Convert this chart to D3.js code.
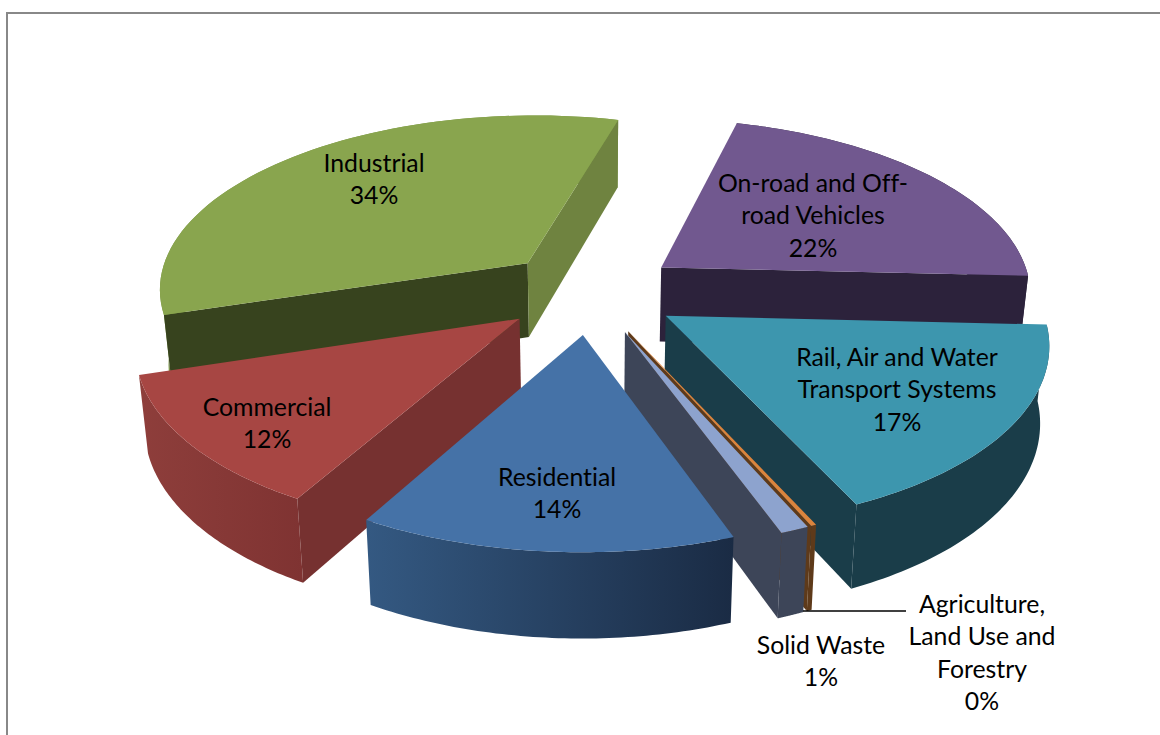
<!DOCTYPE html>
<html>
<head>
<meta charset="utf-8">
<script src="https://cdn.jsdelivr.net/npm/d3@7"></script>
<style>
  body { margin: 0; background: #fff; }
  text { font-family: Lato, "Open Sans", sans-serif; font-size: 24.8px; fill: #000; text-anchor: middle; font-variant-ligatures: none; }
</style>
</head>
<body>
<svg></svg>
<script>
let svgWidth = 1160
let svgHeight = 735

// DATA (clockwise, starting from the top of the pie)
let categories = ['On-road and Off-road Vehicles', 'Rail, Air and Water Transport Systems',
  'Agriculture, Land Use and Forestry', 'Solid Waste', 'Residential', 'Commercial', 'Industrial']
let shares = [21.6, 17.4, 0.2, 1.05, 13.8, 12.0, 33.95]

// STYLES
let topColors = ['#71588F', '#3D96AE', '#DB843D', '#8DA3CE', '#4572A7', '#A74643', '#89A54E']
let startWallColors = ['#2C223B', '#1A3D49', '#5E3A1A', '#3D4558', '#1F3553', '#763130', '#37431E']
let endWallColors = ['#2C223B', '#1A3D49', '#5E3A1A', '#3D4558', '#1F3553', '#763130', '#6F8340']
let outerLeftColors = ['#2C223B', '#1A3D49', '#5E3A1A', '#3D4558', '#345982', '#8E3E3B', '#7B9646']
let outerRightColors = ['#2C223B', '#1A3D49', '#5E3A1A', '#3D4558', '#1A2B44', '#7F3332', '#7B9646']

// back slices first, so the front ones cover them
let paintOrder = [6, 0, 1, 2, 3, 5, 4]

let labelLines = [
  ['On-road and Off-', 'road Vehicles'],
  ['Rail, Air and Water', 'Transport Systems'],
  ['Agriculture,', 'Land Use and', 'Forestry'],
  ['Solid Waste'],
  ['Residential'],
  ['Commercial'],
  ['Industrial']
]
let labelAnchors = [[813, 192], [897, 366], [982, 613], [821, 654], [557, 486], [267, 416], [374, 172]]
let labelLineHeight = 32.3

// PROJECTION
let centerX = 590.5
let centerY = 291.8
let explode = 0.24
let radiusX = 371.5
let radiusY = 175
let perspective = 0.135
let depth = 75
let bottomShrink = 0.98
let firstAngle = 15

let svg = d3.select('svg')
  .attr('width', svgWidth)
  .attr('height', svgHeight)
  .style('display', 'block')

let defs = svg.append('defs')

// chart frame, only its top and left sides are in the picture
svg.append('rect')
  .attr('x', 7)
  .attr('y', 13)
  .attr('width', svgWidth + 20)
  .attr('height', svgHeight + 20)
  .attr('fill', 'none')
  .attr('stroke', '#888')
  .attr('stroke-width', 2)

let pie = d3.pie()
  .sort(null)
  .value((d) => d)
  .startAngle(firstAngle * Math.PI / 180)
  .endAngle((firstAngle + 360) * Math.PI / 180)

let arcs = pie(shares)
let total = d3.sum(shares)
let line = d3.line()

// ground position (radius = 1, y towards the viewer) of a point in an exploded slice
function ground(d, angle, r) {
  let mid = (d.startAngle + d.endAngle) / 2
  return [explode * Math.sin(mid) + r * Math.sin(angle), -explode * Math.cos(mid) - r * Math.cos(angle)]
}

function topPoint(d, angle, r) {
  let g = ground(d, angle, r)
  let f = 1 / (1 - perspective * g[1])
  return [centerX + radiusX * g[0] * f, centerY + radiusY * g[1] * f]
}

function bottomPoint(d, angle, r) {
  let g = ground(d, angle, r)
  let f = 1 / (1 - perspective * g[1])
  return [centerX + radiusX * g[0] * f * bottomShrink,
    centerY + radiusY * g[1] * f + depth * (1 + 0.75 * (f - 1))]
}

function rimAngles(d) {
  return d3.range(0, 61).map((i) => d.startAngle + (d.endAngle - d.startAngle) * i / 60)
}

function wall(d, angle) {
  return line([topPoint(d, angle, 0), topPoint(d, angle, 1),
    bottomPoint(d, angle, 1), bottomPoint(d, angle, 0)]) + 'Z'
}

// a cut wall shows only if going down leaves the slice's top face
function wallShows(d, angle) {
  let a = topPoint(d, angle, 0)
  let p = topPoint(d, angle, 1)
  let q = topPoint(d, (d.startAngle + d.endAngle) / 2, 1)
  let ex = p[0] - a[0]
  let ey = p[1] - a[1]
  return ex * ((q[1] - a[1]) * ex - (q[0] - a[0]) * ey) < 0
}

// THE SLICES
paintOrder.forEach((i) => {
  let d = arcs[i]
  let rim = rimAngles(d)
  let g = svg.append('g').attr('class', 'slice')

  let grad = defs.append('linearGradient').attr('id', 'outer' + i)
  grad.append('stop').attr('offset', 0).attr('stop-color', outerLeftColors[i])
  grad.append('stop').attr('offset', 1).attr('stop-color', outerRightColors[i])

  // outer wall
  let outer = rim.map((a) => topPoint(d, a, 1))
    .concat(rim.slice().reverse().map((a) => bottomPoint(d, a, 1)))
  g.append('path').attr('d', line(outer) + 'Z').attr('fill', `url(#outer${i})`)

  if (wallShows(d, d.startAngle)) {
    g.append('path').attr('d', wall(d, d.startAngle)).attr('fill', startWallColors[i])
  }
  if (wallShows(d, d.endAngle)) {
    g.append('path').attr('d', wall(d, d.endAngle)).attr('fill', endWallColors[i])
  }

  // top face
  let top = [topPoint(d, d.startAngle, 0)].concat(rim.map((a) => topPoint(d, a, 1)))
  g.append('path').attr('d', line(top) + 'Z').attr('fill', topColors[i])
})

// LEADER LINE for the agriculture label
svg.append('line')
  .attr('x1', 803)
  .attr('x2', 906)
  .attr('y1', 611)
  .attr('y2', 611)
  .attr('stroke', '#000')
  .attr('stroke-width', 1.5)

// LABELS
categories.forEach((name, i) => {
  let lines = labelLines[i].concat(Math.round(shares[i] / total * 100) + '%')
  let text = svg.append('text')
    .attr('x', labelAnchors[i][0])
    .attr('y', labelAnchors[i][1])
  lines.forEach((s, j) => {
    text.append('tspan')
      .attr('x', labelAnchors[i][0])
      .attr('dy', j === 0 ? 0 : labelLineHeight)
      .text(s)
  })
})
</script>
</body>
</html>
